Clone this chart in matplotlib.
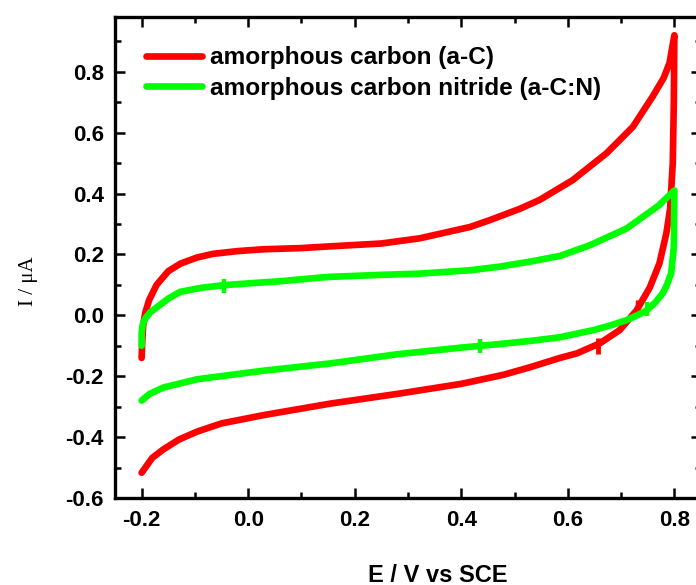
import matplotlib
matplotlib.use("Agg")
import matplotlib.pyplot as plt
from matplotlib.ticker import MultipleLocator

# Cyclic voltammograms (potential in V vs SCE, current in uA)
# amorphous carbon (a-C): forward (anodic) sweep then reverse sweep
ac_fwd_E = [-0.200, -0.199, -0.197, -0.193, -0.186, -0.172, -0.150, -0.127, -0.096,
            -0.066, -0.020, 0.028, 0.100, 0.148, 0.250, 0.322, 0.360, 0.416, 0.454,
            0.510, 0.547, 0.609, 0.673, 0.722, 0.759, 0.780, 0.791, 0.800]
ac_fwd_I = [-0.14, -0.09, -0.03, 0.01, 0.05, 0.10, 0.145, 0.170, 0.190,
            0.202, 0.211, 0.217, 0.221, 0.226, 0.236, 0.253, 0.268, 0.290, 0.313,
            0.350, 0.379, 0.444, 0.533, 0.619, 0.718, 0.780, 0.830, 0.920]
ac_rev_E = [0.800, 0.799, 0.797, 0.792, 0.785, 0.772, 0.754, 0.729, 0.697, 0.660,
            0.617, 0.585, 0.530, 0.480, 0.400, 0.280, 0.154, 0.028, -0.050, -0.096,
            -0.130, -0.159, -0.180, -0.200]
ac_rev_I = [0.920, 0.700, 0.500, 0.350, 0.270, 0.171, 0.092, 0.016, -0.049, -0.092,
            -0.125, -0.140, -0.170, -0.195, -0.225, -0.258, -0.290, -0.328, -0.355, -0.382,
            -0.408, -0.440, -0.468, -0.517]

# amorphous carbon nitride (a-C:N)
acn_fwd_E = [-0.200, -0.200, -0.198, -0.193, -0.184, -0.171, -0.150, -0.128, -0.090,
             -0.046, 0.000, 0.060, 0.148, 0.250, 0.322, 0.416, 0.472, 0.534, 0.585,
             0.641, 0.710, 0.770, 0.800]
acn_fwd_I = [-0.10, -0.06, -0.03, -0.01, 0.01, 0.027, 0.055, 0.077, 0.090,
             0.099, 0.105, 0.112, 0.126, 0.133, 0.137, 0.148, 0.160, 0.178, 0.195,
             0.230, 0.285, 0.360, 0.410]
acn_rev_E = [0.800, 0.799, 0.794, 0.786, 0.778, 0.763, 0.748, 0.730, 0.710, 0.680,
             0.647, 0.585, 0.530, 0.485, 0.400, 0.279, 0.154, 0.028, -0.096, -0.159,
             -0.185, -0.200]
acn_rev_I = [0.410, 0.224, 0.138, 0.100, 0.072, 0.040, 0.016, 0.000, -0.016, -0.033,
             -0.049, -0.072, -0.084, -0.092, -0.106, -0.128, -0.158, -0.182, -0.210, -0.237,
             -0.258, -0.280]

# small spikes in the recorded traces
ac_spike_E = [0.656, 0.729]
ac_spike_I = [-0.100, 0.030]
acn_spike_E = [-0.045, 0.435, 0.748]
acn_spike_I = [0.095, -0.100, 0.020]

labels = ["amorphous carbon (a-C)", "amorphous carbon nitride (a-C:N)"]
x_ticks = [-0.2, 0.0, 0.2, 0.4, 0.6, 0.8]
y_ticks = [-0.6, -0.4, -0.2, 0.0, 0.2, 0.4, 0.6, 0.8]

RED = "#ff0000"
GREEN = "#00ff00"

plt.rcParams["font.family"] = ["Liberation Sans", "DejaVu Sans"]
plt.rcParams["font.weight"] = "bold"

fig = plt.figure(figsize=(6.96, 5.85), dpi=100)
ax = fig.add_axes([115 / 696, 87 / 585, 586 / 696, 481 / 585])

lw = 4.8
ax.plot(ac_fwd_E + ac_rev_E, ac_fwd_I + ac_rev_I, color=RED, lw=lw,
        solid_capstyle="round", solid_joinstyle="round", label=labels[0])
ax.plot(ac_spike_E[:1], ac_spike_I[:1], ls="none", marker="|", ms=11, mew=3.5, color=RED)
ax.plot(ac_spike_E[1:], ac_spike_I[1:], ls="none", marker="|", ms=8, mew=2.5, color=RED)
ax.plot(acn_fwd_E + acn_rev_E, acn_fwd_I + acn_rev_I, color=GREEN, lw=lw,
        solid_capstyle="round", solid_joinstyle="round", label=labels[1])
ax.plot(acn_spike_E, acn_spike_I, ls="none", marker="|", ms=10, mew=3.2, color=GREEN)

ax.set_xlim(-0.25, 0.85)
ax.set_ylim(-0.6, 0.98)
ax.set_xticks(x_ticks)
ax.set_yticks(y_ticks)
ax.set_xticklabels([f"{v:.1f}" for v in x_ticks])
ax.set_yticklabels([f"{v:.1f}" for v in y_ticks])
ax.xaxis.set_minor_locator(MultipleLocator(0.1))
ax.yaxis.set_minor_locator(MultipleLocator(0.1))

for s in ax.spines.values():
    s.set_linewidth(2.4)
ax.tick_params(which="both", direction="in", top=True, right=True, width=1.8)
ax.tick_params(which="major", length=7.5)
ax.tick_params(which="minor", length=4)
ax.tick_params(axis="x", which="major", labelsize=16, pad=9)
ax.tick_params(axis="y", which="major", labelsize=16, pad=8)

leg = ax.legend(loc="upper left", bbox_to_anchor=(0.02, 0.98), frameon=False,
                fontsize=17.6, handlelength=2.3, handletextpad=0.3,
                labelspacing=0.3, borderaxespad=0.4)
for h in leg.get_lines():
    h.set_linewidth(4.8)

fig.text(438 / 696, 1 - 575 / 585, "E / V vs SCE", ha="center", va="center",
         fontsize=17, fontweight="bold")
fig.text(28 / 696, 1 - 281 / 585, "I / \u03bcA", ha="center", va="center",
         rotation=90, fontsize=15, fontweight="normal",
         family=["Liberation Serif", "DejaVu Serif"])

fig.savefig("out.png", dpi=100)
